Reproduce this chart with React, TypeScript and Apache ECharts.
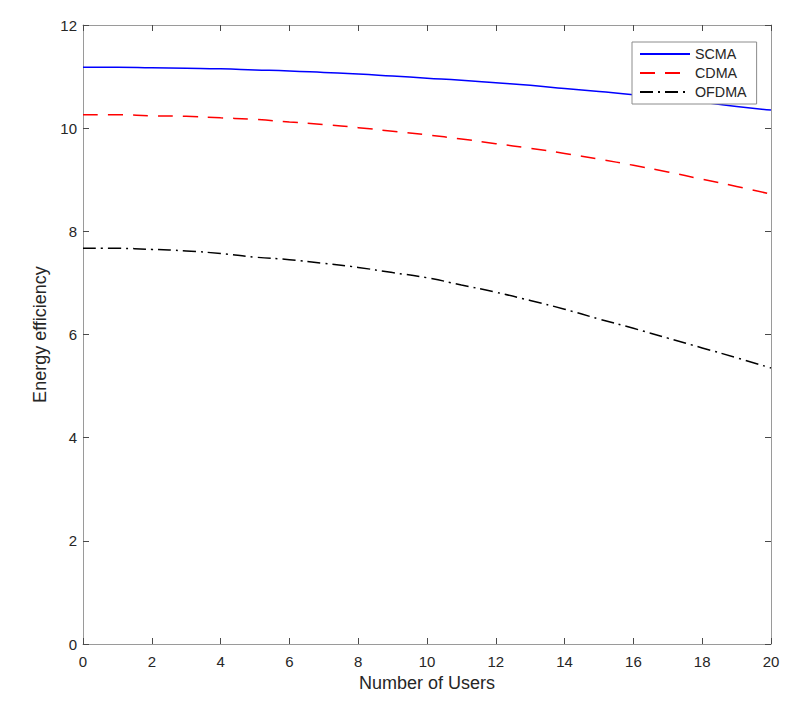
import React, { useEffect, useRef } from "react";
import * as echarts from "echarts";

const users = [0, 1, 2, 3, 4, 5, 6, 7, 8, 9, 10, 11, 12, 13, 14, 15, 16, 17, 18, 19, 20];
const scma = [11.18, 11.18, 11.17, 11.16, 11.15, 11.13, 11.11, 11.08, 11.05, 11.01, 10.97, 10.93, 10.88, 10.83, 10.77, 10.71, 10.65, 10.58, 10.5, 10.42, 10.35];
const cdma = [10.26, 10.26, 10.24, 10.23, 10.2, 10.17, 10.12, 10.07, 10.01, 9.94, 9.87, 9.79, 9.7, 9.61, 9.51, 9.4, 9.28, 9.15, 9.01, 8.87, 8.72];
const ofdma = [7.67, 7.67, 7.65, 7.62, 7.57, 7.5, 7.45, 7.38, 7.3, 7.2, 7.1, 6.96, 6.82, 6.66, 6.49, 6.3, 6.12, 5.93, 5.74, 5.55, 5.35];
const seriesNames = ["SCMA", "CDMA", "OFDMA"];
const xTitle = "Number of Users";
const yTitle = "Energy efficiency";

const FONT = "'Liberation Sans', Arial, Helvetica, sans-serif";
const AXIS_LINE = "#9a9a9a";
const TICK = "#4a4a4a";
const LABEL = "#262626";

export default function App() {
  const ref = useRef<HTMLDivElement>(null);
  useEffect(() => {
    if (!ref.current) return;
    const chart = echarts.init(ref.current, null, { renderer: "svg" });
    const pair = (ys: number[]) => users.map((u, i) => [u, ys[i]]);
    const common = {
      min: 0,
      axisLine: { show: true, onZero: false, lineStyle: { color: AXIS_LINE, width: 1 } },
      axisTick: { show: true, inside: true, length: 6, lineStyle: { color: TICK, width: 1 } },
      splitLine: { show: false },
    };
    chart.setOption({
      animation: false,
      backgroundColor: "#ffffff",
      textStyle: { fontFamily: FONT },
      grid: { left: 83, top: 25, right: 37, bottom: 68 },
      legend: {
        data: seriesNames,
        orient: "vertical",
        left: 632,
        top: 42,
        itemWidth: 50,
        itemHeight: 14,
        itemGap: 5,
        padding: [5, 10, 5, 7],
        borderColor: "#8c8c8c",
        borderWidth: 1,
        backgroundColor: "#ffffff",
        itemStyle: { opacity: 0 },
        textStyle: { fontSize: 14.3, color: LABEL, fontFamily: FONT },
      },
      xAxis: [
        {
          ...common,
          type: "value",
          max: 20,
          interval: 2,
          position: "bottom",
          axisLabel: { show: true, fontSize: 15, color: LABEL, margin: 10, fontFamily: FONT },
          name: xTitle,
          nameLocation: "middle",
          nameGap: 30,
          nameTextStyle: { fontSize: 18, color: LABEL, fontFamily: FONT },
        },
        {
          ...common,
          type: "value",
          max: 20,
          interval: 2,
          position: "top",
          axisLabel: { show: false },
        },
      ],
      yAxis: [
        {
          ...common,
          type: "value",
          max: 12,
          interval: 2,
          position: "left",
          axisLabel: { show: true, fontSize: 15, color: LABEL, margin: 6, fontFamily: FONT },
          name: yTitle,
          nameLocation: "middle",
          nameGap: 29,
          nameTextStyle: { fontSize: 18, color: LABEL, fontFamily: FONT },
        },
        {
          ...common,
          type: "value",
          max: 12,
          interval: 2,
          position: "right",
          axisLabel: { show: false },
        },
      ],
      series: [
        {
          name: seriesNames[0],
          type: "line",
          data: pair(scma),
          smooth: true,
          symbol: "none",
          lineStyle: { color: "#0000ff", width: 1.5, type: "solid" },
          itemStyle: { color: "#0000ff" },
          z: 3,
        },
        {
          name: seriesNames[1],
          type: "line",
          data: pair(cdma),
          smooth: true,
          symbol: "none",
          lineStyle: { color: "#ff0000", width: 1.5, type: [15, 10] },
          itemStyle: { color: "#ff0000" },
          z: 3,
        },
        {
          name: seriesNames[2],
          type: "line",
          data: pair(ofdma),
          smooth: true,
          symbol: "none",
          lineStyle: { color: "#000000", width: 1.5, type: [13, 5, 2, 5] },
          itemStyle: { color: "#000000" },
          z: 3,
        },
      ],
    });
    return () => chart.dispose();
  }, []);
  return (
    <div
      ref={ref}
      style={{ position: "fixed", left: 0, top: 0, width: 808, height: 712, background: "#fff" }}
    />
  );
}
